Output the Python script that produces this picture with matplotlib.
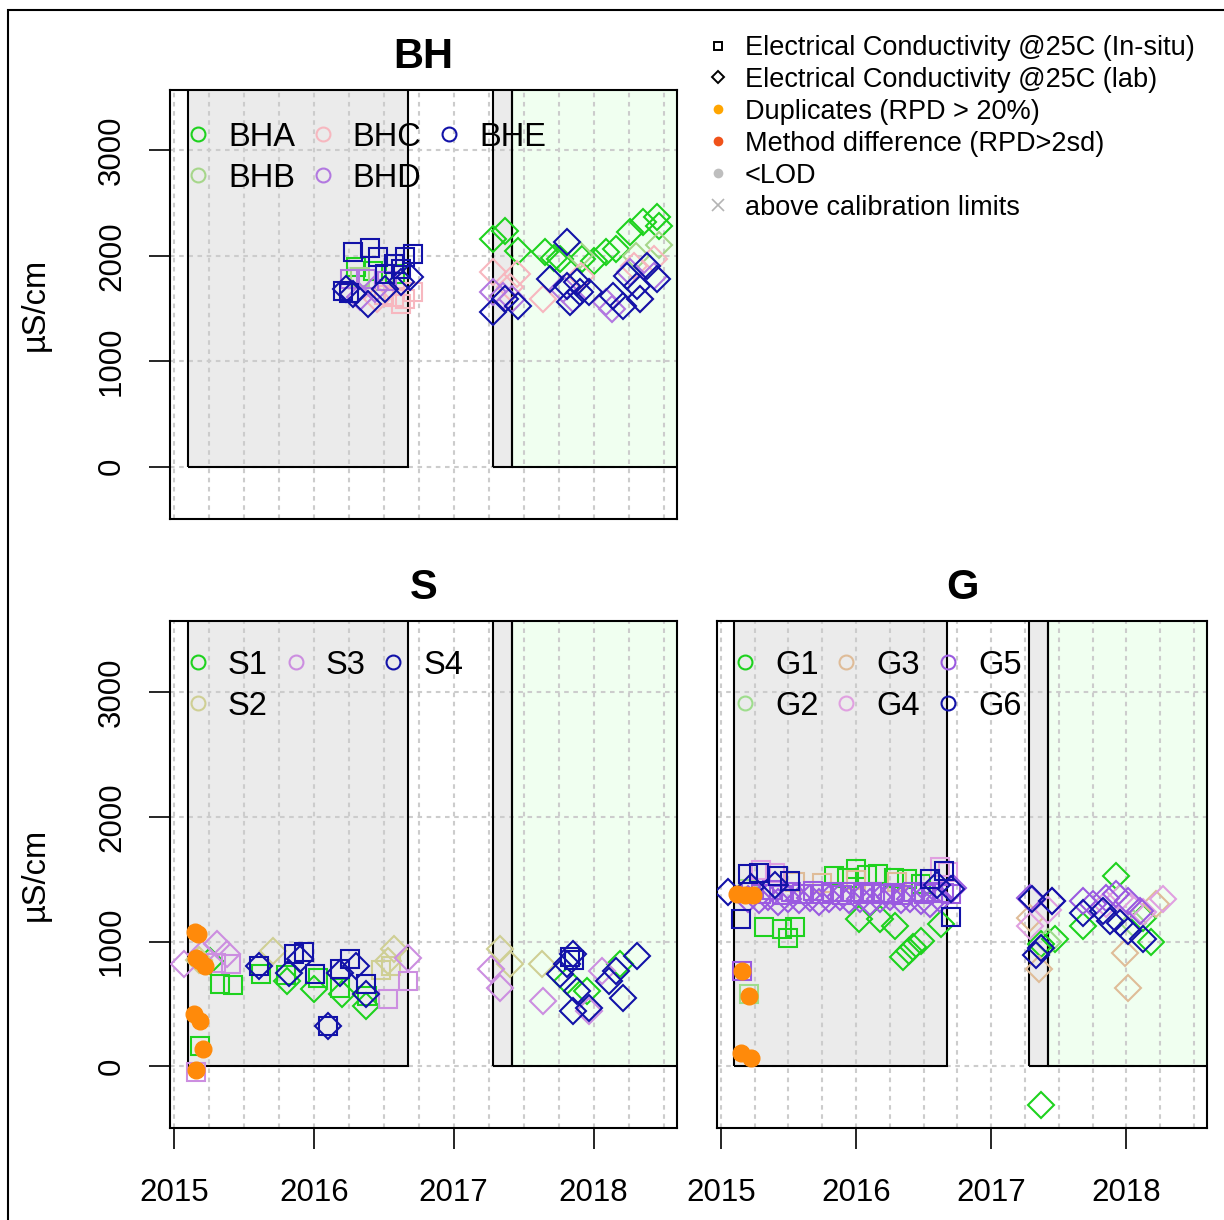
import matplotlib
matplotlib.use("Agg")
import numpy as np
import matplotlib.pyplot as plt
from matplotlib.patches import Rectangle
from matplotlib.lines import Line2D

plt.rcParams['font.family'] = ['Liberation Sans', 'DejaVu Sans']

# ---------------- data: (decimal year, uS/cm) ----------------
# BH boreholes
BHA_INSITU = [(2016.30, 1896), (2016.42, 1858), (2016.58, 1830)]
BHA_LAB = [(2017.28, 2157), (2017.37, 2233), (2017.46, 2044), (2017.65, 2034), (2017.72, 1980),
           (2017.76, 1968), (2017.92, 1968), (2018.00, 1950), (2018.09, 2034), (2018.16, 2062),
           (2018.26, 2223), (2018.35, 2318), (2018.45, 2365), (2018.47, 2280)]
BHB_INSITU = [(2016.33, 1800), (2016.50, 1760)]
BHB_LAB = [(2017.90, 2010), (2018.30, 2000), (2018.47, 2100)]
BHC_INSITU = [(2016.50, 1630), (2016.57, 1611), (2016.62, 1545), (2016.65, 1592), (2016.71, 1659)]
BHC_LAB = [(2016.45, 1592), (2017.28, 1845), (2017.40, 1700), (2017.45, 1826), (2017.64, 1589),
           (2017.91, 1807), (2018.29, 1902), (2018.33, 1589), (2018.43, 1968)]
BHD_INSITU = [(2016.26, 1782), (2016.37, 1782), (2016.52, 1760)]
BHD_LAB = [(2016.33, 1611), (2016.44, 1687), (2017.28, 1656), (2017.35, 1620), (2017.42, 1589),
           (2017.78, 1684), (2017.85, 1589), (2018.09, 1561), (2018.13, 1495), (2018.26, 1845),
           (2018.43, 1807)]
BHE_INSITU = [(2016.21, 1670), (2016.25, 1650), (2016.28, 2034), (2016.40, 2072), (2016.46, 1987),
              (2016.51, 1826), (2016.57, 1920), (2016.62, 1873), (2016.65, 1987), (2016.71, 2015)]
BHE_LAB = [(2016.23, 1687), (2016.28, 1640), (2016.39, 1545), (2016.51, 1687), (2016.62, 1754),
           (2016.69, 1800), (2017.28, 1466), (2017.37, 1589), (2017.46, 1523), (2017.69, 1779),
           (2017.81, 2129), (2017.81, 1712), (2017.83, 1561), (2017.88, 1750), (2017.90, 1656),
           (2017.97, 1656), (2018.14, 1618), (2018.21, 1523), (2018.24, 1807), (2018.31, 1712),
           (2018.33, 1589), (2018.38, 1902), (2018.45, 1779)]

# S sites
S1_INSITU = [(2015.19, 160), (2015.33, 657), (2015.42, 650), (2015.62, 737), (2015.80, 730),
             (2016.03, 705), (2016.19, 625), (2016.38, 560)]
S1_LAB = [(2015.26, 841), (2015.81, 681), (2016.00, 617), (2016.20, 577), (2016.37, 481),
          (2017.81, 681), (2017.95, 600), (2018.19, 817)]
S2_INSITU = [(2016.48, 770), (2016.55, 800)]
S2_LAB = [(2015.18, 850), (2015.71, 921), (2016.53, 841), (2016.57, 937), (2017.33, 937),
          (2017.40, 817), (2017.63, 817)]
S3_INSITU = [(2015.16, -50), (2015.30, 830), (2015.41, 817), (2016.53, 537), (2016.67, 681)]
S3_LAB = [(2015.07, 817), (2015.20, 900), (2015.31, 978), (2015.38, 897), (2016.67, 865),
          (2017.27, 777), (2017.33, 625), (2017.64, 521), (2017.97, 441), (2018.06, 761)]
S4_INSITU = [(2015.61, 800), (2015.86, 900), (2015.93, 920), (2016.01, 740), (2016.10, 320),
             (2016.19, 780), (2016.26, 860), (2016.37, 660), (2017.83, 880), (2017.86, 850)]
S4_LAB = [(2015.61, 800), (2015.82, 745), (2015.90, 860), (2016.10, 320), (2016.19, 745),
          (2016.30, 800), (2016.37, 577), (2017.76, 737), (2017.81, 817), (2017.85, 897),
          (2017.85, 441), (2017.88, 601), (2017.97, 465), (2018.11, 681), (2018.16, 761),
          (2018.21, 545), (2018.31, 881)]
S_DUPLICATES = [(2015.15, 1080), (2015.17, 1060), (2015.16, 870), (2015.19, 840), (2015.22, 800),
                (2015.14, 420), (2015.19, 360), (2015.21, 140), (2015.16, -30)]

# G sites
G1_INSITU = [(2015.32, 1120), (2015.45, 1100), (2015.50, 1030), (2015.55, 1120), (2015.84, 1522),
             (2015.93, 1510), (2016.00, 1578), (2016.08, 1530), (2016.16, 1538), (2016.28, 1506),
             (2016.38, 1498), (2016.48, 1460)]
G1_LAB = [(2016.02, 1178), (2016.18, 1178), (2016.29, 1122), (2016.35, 880), (2016.39, 921),
          (2016.42, 960), (2016.48, 1001), (2016.63, 1138), (2017.37, 977), (2017.37, -310),
          (2017.47, 1017), (2017.68, 1122), (2017.92, 1522), (2018.12, 1186), (2018.18, 1000)]
G2_INSITU = [(2015.21, 580), (2015.20, 1420)]
G2_LAB = [(2017.42, 1000), (2018.05, 1150)]
G3_INSITU = [(2015.55, 1480), (2015.75, 1470), (2016.00, 1490), (2016.30, 1475)]
G3_LAB = [(2017.29, 1186), (2017.35, 777), (2017.99, 905), (2018.01, 625), (2018.22, 1300)]
G4_INSITU = [(2015.30, 1570), (2015.40, 1550), (2016.62, 1600), (2016.68, 1560)]
G4_LAB = [(2017.29, 1122), (2017.42, 1250), (2017.85, 1300), (2017.95, 1350), (2018.03, 1282),
          (2018.12, 1240), (2018.27, 1338)]
G5_INSITU = [(2015.16, 760), (2015.22, 1400), (2015.30, 1380), (2015.38, 1410), (2015.45, 1370),
             (2015.52, 1395), (2015.60, 1380), (2015.68, 1405), (2015.75, 1385), (2015.82, 1400),
             (2015.90, 1375), (2015.97, 1395), (2016.05, 1385), (2016.12, 1400), (2016.20, 1380),
             (2016.27, 1390), (2016.35, 1370), (2016.42, 1395), (2016.50, 1385), (2016.57, 1400),
             (2016.65, 1390), (2016.70, 1380)]
G5_LAB = [(2015.20, 1340), (2015.28, 1330), (2015.35, 1355), (2015.42, 1320), (2015.50, 1345),
          (2015.58, 1330), (2015.66, 1350), (2015.73, 1320), (2015.80, 1340), (2015.88, 1355),
          (2015.95, 1330), (2016.03, 1345), (2016.10, 1320), (2016.18, 1340), (2016.25, 1355),
          (2016.33, 1330), (2016.40, 1345), (2016.48, 1325), (2016.55, 1300), (2016.62, 1340),
          (2016.72, 1426), (2017.29, 1346), (2017.45, 1322), (2017.68, 1322), (2017.75, 1300),
          (2017.85, 1346), (2017.92, 1378), (2018.01, 1322), (2018.10, 1242)]
G6_INSITU = [(2015.15, 1178), (2015.20, 1538), (2015.28, 1546), (2015.42, 1522), (2015.51, 1482),
             (2016.55, 1498), (2016.65, 1562), (2016.70, 1200)]
G6_LAB = [(2015.05, 1400), (2015.22, 1440), (2015.40, 1450), (2016.60, 1450), (2016.70, 1420),
          (2017.30, 1338), (2017.33, 890), (2017.37, 946), (2017.45, 1322), (2017.68, 1226),
          (2017.83, 1242), (2017.88, 1162), (2017.95, 1150), (2018.01, 1082), (2018.12, 1017)]
G_DUPLICATES = [(2015.12, 1380), (2015.18, 1370), (2015.24, 1375), (2015.16, 760),
                (2015.21, 560), (2015.15, 110), (2015.22, 70)]

BH_NAMES = ["BHA", "BHB", "BHC", "BHD", "BHE"]
BH_COLORS = ["#1ed21e", "#a6d68a", "#f7b7bf", "#b278e0", "#1212a8"]
S_NAMES = ["S1", "S2", "S3", "S4"]
S_COLORS = ["#1ed21e", "#cfcf94", "#cc8ee0", "#1212a8"]
G_NAMES = ["G1", "G2", "G3", "G4", "G5", "G6"]
G_COLORS = ["#1ed21e", "#9edd8c", "#dfbc98", "#e0a0e0", "#9a5ae0", "#1212a8"]

# sampling campaigns (shaded)
GRAY_PERIODS = [(2015.10, 2016.67), (2017.28, 2017.42)]
GREEN_PERIOD = (2017.42, 2019.5)

YEARS = [2015, 2016, 2017, 2018]
YTICKS = [0, 1000, 2000, 3000]
XLIM = (2014.972, 2018.596)
YLIM = (-495, 3570)

W, H = 1224, 1220
fig = plt.figure(figsize=(W / 100, H / 100), dpi=100)


def px_axes(left, top, right, bottom):
    return fig.add_axes([left / W, 1 - bottom / H, (right - left) / W, (bottom - top) / H])


def draw_panel(ax, title, names, colors, insitu, lab, dups=None, yaxis=True, xaxis=True,
               leg_anchor=(0.023, 0.94)):
    ax.set_xlim(*XLIM)
    ax.set_ylim(*YLIM)
    for a, b in GRAY_PERIODS:
        ax.add_patch(Rectangle((a, 0), b - a, 1e4, facecolor="#ebebeb", edgecolor="none", zorder=0))
    a, b = GREEN_PERIOD
    ax.add_patch(Rectangle((a, 0), b - a, 1e4, facecolor="#f0fff0", edgecolor="none", zorder=0))
    # grid
    for q in np.arange(2015, 2018.6, 0.25):
        ax.axvline(q, color="#cccccc", lw=1.5, ls=(0, (2.2, 2.2)), zorder=1)
    for yv in YTICKS:
        ax.axhline(yv, color="#cccccc", lw=1.5, ls=(0, (2.2, 2.2)), zorder=1)
    for a, b in GRAY_PERIODS + [GREEN_PERIOD]:
        ax.add_patch(Rectangle((a, 0), b - a, 1e4, facecolor="none", edgecolor="black",
                               lw=1.5, zorder=1.5))

    for name, col, sq, di in zip(names, colors, insitu, lab):
        if sq:
            t, v = zip(*sq)
            ax.plot(t, v, ls="none", marker="s", ms=13.5, mfc="none", mec=col, mew=1.5, zorder=3)
        if di:
            t, v = zip(*di)
            ax.plot(t, v, ls="none", marker="D", ms=13, mfc="none", mec=col, mew=1.5, zorder=3)
    if dups:
        t, v = zip(*dups)
        ax.plot(t, v, ls="none", marker="o", ms=12, mfc="#ff8a0a", mec="#ff8a0a", zorder=4)

    handles = [Line2D([], [], ls="none", marker="o", ms=10, mfc="none", mec=c, mew=1.5)
               for c in colors]
    ax.legend(handles, names, loc="upper left", bbox_to_anchor=leg_anchor, ncol=3,
              frameon=False, fontsize=23.5, handlelength=1.0, handletextpad=0.42,
              columnspacing=0.35, labelspacing=0.3, borderpad=0, borderaxespad=0)

    for s in ax.spines.values():
        s.set_linewidth(1.5)
        s.set_color("black")
    ax.set_title(title, fontsize=30, fontweight="bold", pad=16)
    if xaxis:
        ax.set_xticks(YEARS)
        ax.set_xticklabels([str(y) for y in YEARS])
        ax.tick_params(axis="x", direction="out", length=15, width=1.2, labelsize=22.5, pad=21)
    else:
        ax.set_xticks([])
    if yaxis:
        ax.set_yticks(YTICKS)
        ax.set_yticklabels([str(y) for y in YTICKS], rotation=90, va="center")
        ax.tick_params(axis="y", direction="out", length=15, width=1.2, labelsize=22.5, pad=16)
    else:
        ax.set_yticks([])


ax_bh = px_axes(170, 90, 677, 519)
draw_panel(ax_bh, "BH", BH_NAMES, BH_COLORS,
           [BHA_INSITU, BHB_INSITU, BHC_INSITU, BHD_INSITU, BHE_INSITU],
           [BHA_LAB, BHB_LAB, BHC_LAB, BHD_LAB, BHE_LAB], xaxis=False,
           leg_anchor=(0.023, 0.926))

ax_s = px_axes(170, 621, 677, 1128)
draw_panel(ax_s, "S", S_NAMES, S_COLORS,
           [S1_INSITU, S2_INSITU, S3_INSITU, S4_INSITU],
           [S1_LAB, S2_LAB, S3_LAB, S4_LAB], dups=S_DUPLICATES,
           leg_anchor=(0.023, 0.943))

ax_g = px_axes(717, 621, 1207, 1128)
draw_panel(ax_g, "G", G_NAMES, G_COLORS,
           [G1_INSITU, G2_INSITU, G3_INSITU, G4_INSITU, G5_INSITU, G6_INSITU],
           [G1_LAB, G2_LAB, G3_LAB, G4_LAB, G5_LAB, G6_LAB], dups=G_DUPLICATES, yaxis=False,
           leg_anchor=(0.024, 0.943))

for ax in (ax_bh, ax_s):
    bb = ax.get_position()
    fig.text(35 / W, bb.y0 + bb.height / 2, "\u00b5S/cm", rotation=90, ha="center", va="center",
             fontsize=23.5)

# overall legend
leg_handles = [
    Line2D([], [], ls="none", marker="s", ms=6, mfc="none", mec="black", mew=1.4),
    Line2D([], [], ls="none", marker="D", ms=6.5, mfc="none", mec="black", mew=1.4),
    Line2D([], [], ls="none", marker="o", ms=7, mfc="#ffa500", mec="none"),
    Line2D([], [], ls="none", marker="o", ms=7, mfc="#f0521a", mec="none"),
    Line2D([], [], ls="none", marker="o", ms=7, mfc="#bebebe", mec="none"),
    Line2D([], [], ls="none", marker="x", ms=9, mec="#b4b4b4", mew=1.2),
]
leg_labels = ["Electrical Conductivity @25C (In-situ)", "Electrical Conductivity @25C (lab)",
              "Duplicates (RPD > 20%)", "Method difference (RPD>2sd)", "<LOD",
              "above calibration limits"]
fig.legend(leg_handles, leg_labels, loc="upper left", bbox_to_anchor=(704 / W, 1 - 35 / H),
           frameon=False, fontsize=19.5, handlelength=1.0, handletextpad=0.5,
           labelspacing=0.22, borderpad=0, borderaxespad=0)

# outer frame
fig.patches.append(Rectangle((8 / W, -0.5), 2, 1.5 - 10 / H, transform=fig.transFigure,
                             facecolor="none", edgecolor="black", lw=1.5, figure=fig))

fig.savefig("out.png", dpi=100)
